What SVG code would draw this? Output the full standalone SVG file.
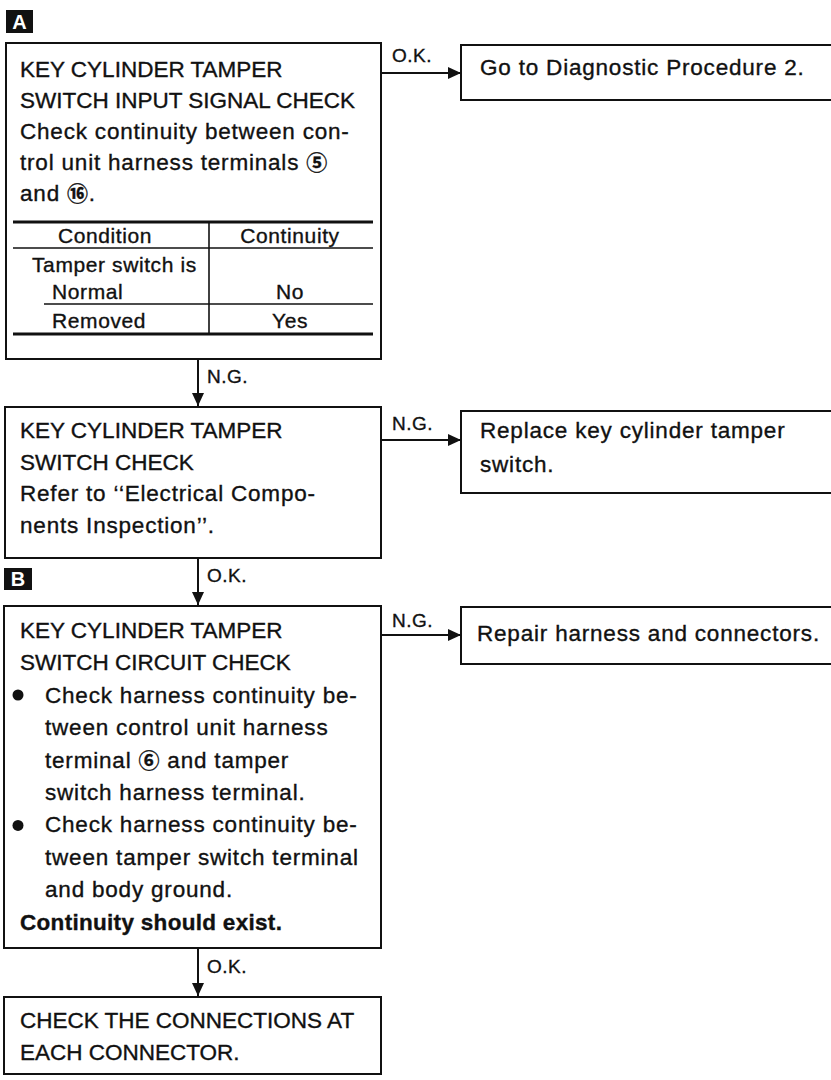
<svg xmlns="http://www.w3.org/2000/svg" width="831" height="1080" viewBox="0 0 831 1080">
<style>
text{font-family:"Liberation Sans",Arial,"Noto Sans CJK JP",sans-serif;fill:#111;stroke:#111;stroke-width:0.35px;}
.t{font-size:22.5px;}
.m{font-size:22.5px;letter-spacing:0.8px;}
.b{font-size:22.5px;font-weight:bold;letter-spacing:0.3px;}
.tb{font-size:21px;letter-spacing:0.6px;}
.lbl{font-size:19px;letter-spacing:0.5px;}
.cn{font-family:"Noto Sans CJK JP","DejaVu Sans",sans-serif;font-weight:bold;font-size:21px;}
.box{fill:#fff;stroke:#111;stroke-width:2;}
.edge{stroke:#111;stroke-width:2;fill:none;}
.thick{stroke:#111;stroke-width:3.2;}
.thin{stroke:#111;stroke-width:1.6;}
.tag{fill:#111;}
.tagt{font-size:20px;font-weight:bold;fill:#fff;stroke:none;}
</style>
<defs>
<marker id="ah" markerUnits="userSpaceOnUse" markerWidth="14" markerHeight="14" refX="13" refY="6" orient="auto">
<path d="M0,0 L13,6 L0,12 z" fill="#111"/>
</marker>
</defs>

<g id="tagA"><rect class="tag" x="6" y="10" width="27" height="23"/><text class="tagt" x="19.5" y="29" text-anchor="middle">A</text></g>
<g id="tagB"><rect class="tag" x="4" y="568" width="28" height="22"/><text class="tagt" x="18" y="586" text-anchor="middle">B</text></g>

<g id="node1">
<rect class="box" x="6" y="43" width="375" height="316"/>
<text class="t" x="20" y="76.5">KEY CYLINDER TAMPER</text>
<text class="t" x="20" y="107.5">SWITCH INPUT SIGNAL CHECK</text>
<text class="m" x="20" y="138.5">Check continuity between con-</text>
<text class="m" x="20" y="169.5">trol unit harness terminals <tspan class="cn">⑤</tspan></text>
<text class="m" x="20" y="200.5">and <tspan class="cn">⑯</tspan>.</text>
<line class="thick" x1="13" y1="222" x2="373" y2="222"/>
<line class="thin" x1="13" y1="248" x2="373" y2="248"/>
<line class="thin" x1="44" y1="304" x2="373" y2="304"/>
<line class="thick" x1="13" y1="334" x2="373" y2="334"/>
<line class="thin" x1="209" y1="222" x2="209" y2="334"/>
<text class="tb" x="105" y="243" text-anchor="middle">Condition</text>
<text class="tb" x="290" y="243" text-anchor="middle">Continuity</text>
<text class="tb" x="32" y="272">Tamper switch is</text>
<text class="tb" x="52" y="299">Normal</text>
<text class="tb" x="290" y="299" text-anchor="middle">No</text>
<text class="tb" x="52" y="328">Removed</text>
<text class="tb" x="290" y="328" text-anchor="middle">Yes</text>
</g>

<g id="node2">
<rect class="box" x="5" y="407" width="376" height="151"/>
<text class="t" x="20" y="438">KEY CYLINDER TAMPER</text>
<text class="t" x="20" y="470">SWITCH CHECK</text>
<text class="m" x="20" y="501">Refer to ‘‘Electrical Compo-</text>
<text class="m" x="20" y="533">nents Inspection’’.</text>
</g>

<g id="node3">
<rect class="box" x="4" y="606" width="377" height="342"/>
<text class="t" x="20" y="638">KEY CYLINDER TAMPER</text>
<text class="t" x="20" y="670.4">SWITCH CIRCUIT CHECK</text>
<circle cx="18" cy="695" r="5.5" fill="#111"/>
<text class="m" x="45" y="702.8">Check harness continuity be-</text>
<text class="m" x="45" y="735.2">tween control unit harness</text>
<text class="m" x="45" y="767.6">terminal <tspan class="cn">⑥</tspan> and tamper</text>
<text class="m" x="45" y="800">switch harness terminal.</text>
<circle cx="18" cy="825.4" r="5.5" fill="#111"/>
<text class="m" x="45" y="832.4">Check harness continuity be-</text>
<text class="m" x="45" y="864.8">tween tamper switch terminal</text>
<text class="m" x="45" y="897.2">and body ground.</text>
<text class="b" x="20" y="929.6">Continuity should exist.</text>
</g>

<g id="node4">
<rect class="box" x="4" y="997" width="377" height="77"/>
<text class="t" x="20" y="1028">CHECK THE CONNECTIONS AT</text>
<text class="t" x="20" y="1060">EACH CONNECTOR.</text>
</g>

<g id="nodeR1">
<path class="edge" d="M840,45 H461 V100 H840"/>
<text class="m" x="480" y="75">Go to Diagnostic Procedure 2.</text>
</g>
<g id="nodeR2">
<path class="edge" d="M840,411 H461 V493 H840"/>
<text class="m" x="480" y="438">Replace key cylinder tamper</text>
<text class="m" x="480" y="472">switch.</text>
</g>
<g id="nodeR3">
<path class="edge" d="M840,607 H461 V664 H840"/>
<text class="m" x="477" y="641">Repair harness and connectors.</text>
</g>

<g id="connectors">
<line class="edge" x1="381" y1="73" x2="461" y2="73" marker-end="url(#ah)"/>
<line class="edge" x1="381" y1="440" x2="461" y2="440" marker-end="url(#ah)"/>
<line class="edge" x1="381" y1="635" x2="461" y2="635" marker-end="url(#ah)"/>
<line class="edge" x1="198" y1="359" x2="198" y2="406" marker-end="url(#ah)"/>
<line class="edge" x1="198" y1="558" x2="198" y2="605" marker-end="url(#ah)"/>
<line class="edge" x1="198" y1="948" x2="198" y2="996" marker-end="url(#ah)"/>
<text class="lbl" x="392" y="62">O.K.</text>
<text class="lbl" x="392" y="430">N.G.</text>
<text class="lbl" x="392" y="627">N.G.</text>
<text class="lbl" x="207" y="383">N.G.</text>
<text class="lbl" x="207" y="582">O.K.</text>
<text class="lbl" x="207" y="973">O.K.</text>
</g>
</svg>
